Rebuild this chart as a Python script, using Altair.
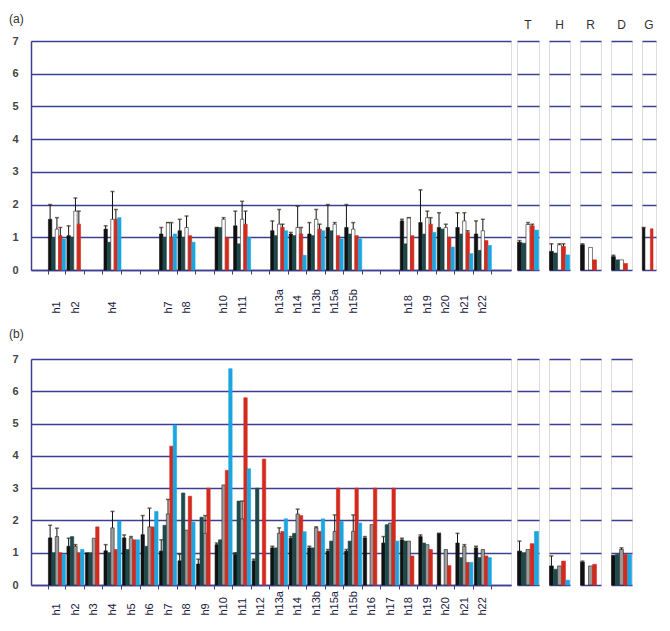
import altair as alt
import pandas as pd

# ---------------- data ----------------
SERIES = ["black", "teal", "light", "red", "blue"]
CATS = ["h1", "h2", "h3", "h4", "h5", "h6", "h7", "h8", "h9", "h10", "h11", "h12",
        "h13a", "h14", "h13b", "h15a", "h15b", "h16", "h17", "h18", "h19", "h20", "h21", "h22"]
A_MISSING = ["h3", "h5", "h6", "h9", "h12", "h16", "h17"]
A_CATS = ["h1", "h2", "h4", "h7", "h8", "h10", "h11", "h13a", "h14", "h13b", "h15a", "h15b",
          "h18", "h19", "h20", "h21", "h22"]

# panel (a) main
a_black = [1.55, 1.05, 1.25, 1.1, 1.2, 1.3, 1.35, 1.2, 1.1, 1.1, 1.3, 1.3, 1.5, 1.45, 1.3, 1.3, 1.1]
a_black_err = [2.0, 1.35, 1.35, 1.3, 1.55, 1.3, 1.8, 1.5, 1.15, 1.45, 2.0, 2.0, 1.55, 2.45, 1.75, 1.75, 1.5]
a_teal = [0.98, 1.0, 0.85, 1.0, 1.0, 1.3, 0.8, 1.05, 1.05, 1.05, 1.2, 1.1, 0.8, 1.1, 1.25, 1.1, 0.6]
a_light = [1.25, 1.8, 1.55, 1.45, 1.3, 1.55, 1.55, 1.4, 1.3, 1.55, 1.4, 1.25, 1.6, 1.6, 1.3, 1.5, 1.2]
a_light_err = [1.6, 2.2, 2.4, 1.45, 1.65, 1.6, 2.1, 1.85, 1.95, 1.85, 1.45, 1.45, 1.6, 1.8, 1.4, 1.75, 1.55]
a_red = [1.05, 1.4, 1.55, 1.0, 1.05, 1.0, 1.4, 1.3, 1.1, 1.25, 1.05, 1.05, 1.05, 1.4, 1.0, 1.15, 0.9]
a_red_err = [1.3, 1.8, 1.85, 1.45, None, None, 1.8, 1.4, 1.3, 1.4, None, None, None, 1.6, None, 1.2, None]
a_blue = [0.95, None, 1.6, 1.1, 0.85, None, 1.0, 1.2, 0.45, 1.2, 0.95, 0.95, None, 1.15, 0.7, 0.5, 0.75]

# panel (b) main
b_black = [1.46, 1.2, 1.0, 1.06, 1.46, 1.56, 1.05, 0.75, 0.65, 1.25, 0.95, 0.75,
           1.15, 1.45, 1.15, 1.05, 1.05, 1.46, 1.3, 1.4, 1.5, 1.6, 1.3, 1.15]
b_black_err = [1.85, 1.45, None, 1.25, 1.55, 2.15, 1.4, 0.95, 0.8, 1.3, 1.0, 0.8,
               1.2, 1.5, 1.2, 1.1, 1.1, 1.5, 1.5, 1.45, 1.55, 1.6, 1.6, 1.2]
b_teal = [1.0, 1.5, 1.0, 1.0, 1.1, 1.2, 1.85, 2.85, 2.1, 1.4, 2.6, 3.0,
          1.15, 1.6, 1.15, 1.36, 1.36, None, 1.87, 1.36, 1.3, None, 0.85, 0.85]
b_light = [1.5, 1.2, 1.45, 1.77, 1.46, 1.8, 2.2, 1.7, 1.6, 3.1, 2.05, None,
           1.6, 2.2, 1.77, 1.66, 1.66, 1.87, 1.92, 1.36, 1.25, 1.1, 1.2, 1.1]
b_light_err = [1.76, 1.25, None, 2.28, 1.5, 2.38, 2.65, None, 2.15, None, 2.6, None,
               1.77, 2.35, 1.8, 2.17, 2.17, None, None, None, None, None, 1.25, None]
b_red = [1.0, 1.0, 1.8, 1.1, 1.4, 1.8, 4.3, 2.75, 3.0, 3.55, 5.8, 3.9,
         1.66, 2.15, 1.66, 3.0, 3.0, 3.0, 3.0, 0.9, 1.1, 0.6, 0.7, 0.9]
b_blue = [0.95, 1.1, None, 1.98, 1.4, 2.28, 4.95, 1.95, None, 6.7, 3.6, None,
          2.05, 1.65, 2.05, 1.97, 1.92, None, 1.36, None, None, None, 0.7, 0.85]

# small panels: values per series [black, teal, light, red, blue]
SMALL_A_NAMES = ["T", "H", "R", "D", "G"]
small_a_vals = [[0.85, 0.82, 1.39, 1.35, 1.22],
                [0.57, 0.52, 0.77, 0.72, 0.46],
                [0.77, None, 0.69, 0.31, None],
                [0.41, 0.31, 0.31, 0.2, None],
                [1.29, None, None, 1.26, None]]
small_a_errs = [[0.9, None, 1.45, 1.4, None],
                [0.8, None, 0.8, 0.8, None],
                [0.8, None, None, None, None],
                [0.45, None, None, None, None],
                [1.3, None, None, None, None]]
small_b_vals = [[1.05, 1.0, 1.1, 1.28, 1.66],
                [0.59, 0.49, 0.59, 0.74, 0.15],
                [0.71, None, 0.59, 0.64, None],
                [0.92, 0.95, 1.1, 0.95, 0.95]]
small_b_errs = [[1.36, None, None, None, None],
                [0.9, None, None, None, None],
                [0.74, None, None, None, None],
                [None, None, 1.15, None, None]]

# ---------------- helpers ----------------
FILL_A = ["#111111", "#1d4a4c", "#ffffff", "#d42a1e", "#1ba6e0"]
FILL_B = ["#111111", "#1d4a4c", "#9c9c9c", "#d42a1e", "#1ba6e0"]
STROKE = ["#111111", "#1d4a4c", "#222222", "#d42a1e", "#1ba6e0"]
GRID = "#3f3f92"
FONT = "Liberation Sans"
W_MAIN = 480


def main_frames(cats, series_vals, series_errs):
    bars, errs = [], []
    for s, vals in zip(SERIES, series_vals):
        e = series_errs.get(s)
        for i, c in enumerate(cats):
            if vals[i] is None:
                continue
            bars.append({"cat": c, "series": s, "value": vals[i]})
            if e is not None and e[i] is not None:
                errs.append({"cat": c, "series": s, "value": vals[i], "err": e[i]})
    return pd.DataFrame(bars), pd.DataFrame(errs)


def small_frames(vals, errs):
    bars, ebars = [], []
    for s, v, e in zip(SERIES, vals, errs):
        if v is None:
            continue
        bars.append({"series": s, "value": v})
        if e is not None:
            ebars.append({"series": s, "value": v, "err": e})
    return pd.DataFrame(bars), pd.DataFrame(ebars)


yscale = alt.Scale(domain=[0, 7], nice=False)


def main_panel(bars_df, err_df, fills, title, label_pad, hide, height, toff):
    xscale = alt.Scale(domain=CATS, paddingInner=0.08, paddingOuter=1.0, align=0.47)
    expr = "datum.value"
    if hide:
        expr = "indexof(" + str(hide) + ", datum.value) >= 0 ? '' : datum.value"
    xaxis = alt.Axis(title=None, labelAngle=270, labelAlign="left", labelBaseline="middle",
                     labelPadding=label_pad, tickSize=4, tickBand="extent", tickColor=GRID,
                     domainColor=GRID, domainWidth=1.5, labelFontSize=11, labelColor="#1a1a40",
                     labelOverlap=False, labelExpr=expr, labelFont=FONT)
    yaxis = alt.Axis(title=None, values=list(range(8)), grid=True, gridColor=GRID, gridWidth=1.5,
                     ticks=False, domainColor=GRID, domainWidth=1.5, labelPadding=13,
                     labelFontSize=11, labelFontWeight="bold", labelColor="#444444",
                     labelOverlap=False, minExtent=22, maxExtent=22, labelFont=FONT)
    xo = alt.XOffset("series:N", scale=alt.Scale(domain=SERIES, paddingInner=0, paddingOuter=0))
    x = alt.X("cat:N", scale=xscale, axis=xaxis)
    y = alt.Y("value:Q", scale=yscale, axis=yaxis)
    bars = alt.Chart(bars_df).mark_bar(strokeWidth=0.6).encode(
        x=x, xOffset=xo, y=y,
        fill=alt.Fill("series:N", scale=alt.Scale(domain=SERIES, range=fills), legend=None),
        stroke=alt.Stroke("series:N", scale=alt.Scale(domain=SERIES, range=STROKE), legend=None),
    )
    rules = alt.Chart(err_df).mark_rule(color="#111111", strokeWidth=1).encode(
        x=x, xOffset=xo, y=y, y2="err:Q")
    caps = alt.Chart(err_df).mark_tick(color="#3a2a10", thickness=1.5, size=4).encode(
        x=x, xOffset=xo, y=alt.Y("err:Q", scale=yscale, axis=yaxis))
    return alt.layer(bars, rules, caps).properties(
        width=W_MAIN, height=height,
        title=alt.TitleParams(title, anchor="start", fontSize=12,
                              fontWeight="normal", color="#333333", font=FONT, offset=toff))


def small_panel(vals, errs, fills, width, height, title=None):
    bdf, edf = small_frames(vals, errs)
    x = alt.X("series:N", scale=alt.Scale(domain=SERIES, paddingInner=0.04, paddingOuter=0.12),
              axis=None)
    yaxis = alt.Axis(title=None, values=list(range(8)), grid=True, gridColor=GRID, gridWidth=1.5,
                     labels=False, ticks=False, domain=False, minExtent=0, maxExtent=0)
    y = alt.Y("value:Q", scale=yscale, axis=yaxis)
    bars = alt.Chart(bdf).mark_bar(strokeWidth=0.6).encode(
        x=x, y=y,
        fill=alt.Fill("series:N", scale=alt.Scale(domain=SERIES, range=fills), legend=None),
        stroke=alt.Stroke("series:N", scale=alt.Scale(domain=SERIES, range=STROKE), legend=None),
    )
    rules = alt.Chart(edf).mark_rule(color="#111111", strokeWidth=1).encode(
        x=x, y=y, y2="err:Q")
    caps = alt.Chart(edf).mark_tick(color="#3a2a10", thickness=1.5, size=4).encode(
        x=x, y=alt.Y("err:Q", scale=yscale, axis=yaxis))
    props = dict(width=width, height=height)
    if title:
        props["title"] = alt.TitleParams(title, anchor="middle", fontSize=12, fontWeight="normal",
                                         color="#333333", font=FONT, offset=9)
    return alt.layer(bars, rules, caps).properties(**props)


# ---------------- build ----------------
a_bars, a_errs = main_frames(A_CATS, [a_black, a_teal, a_light, a_red, a_blue],
                             {"black": a_black_err, "light": a_light_err, "red": a_red_err})
b_bars, b_errs = main_frames(CATS, [b_black, b_teal, b_light, b_red, b_blue],
                             {"black": b_black_err, "light": b_light_err})

WIDTHS = [22, 21, 21, 21, 14]
HA, HB = 229, 226

smalls_a = alt.hconcat(
    *[small_panel(v, e, FILL_A, w, HA, n)
      for v, e, n, w in zip(small_a_vals, small_a_errs, SMALL_A_NAMES, WIDTHS)],
    spacing=8,
).resolve_scale(fill="independent", stroke="independent")
row_a = alt.hconcat(
    main_panel(a_bars, a_errs, FILL_A, "(a)", 39, A_MISSING, HA, 9), smalls_a, spacing=4,
).resolve_scale(fill="independent", stroke="independent")

smalls_b = alt.hconcat(
    *[small_panel(v, e, FILL_B, w, HB) for v, e, w in zip(small_b_vals, small_b_errs, WIDTHS)],
    spacing=8,
).resolve_scale(fill="independent", stroke="independent")
row_b = alt.hconcat(
    main_panel(b_bars, b_errs, FILL_B, "(b)", 26, None, HB, 12), smalls_b, spacing=4,
).resolve_scale(fill="independent", stroke="independent")

chart = alt.vconcat(row_a, row_b, spacing=13).resolve_scale(
    fill="independent", stroke="independent"
).properties(
    padding={"left": 0, "top": 4, "right": 0, "bottom": 0}
).configure_view(stroke="#222233", strokeWidth=1.5).configure(font=FONT)

chart.save("out.html", embed_options={"renderer": "svg", "actions": False})
